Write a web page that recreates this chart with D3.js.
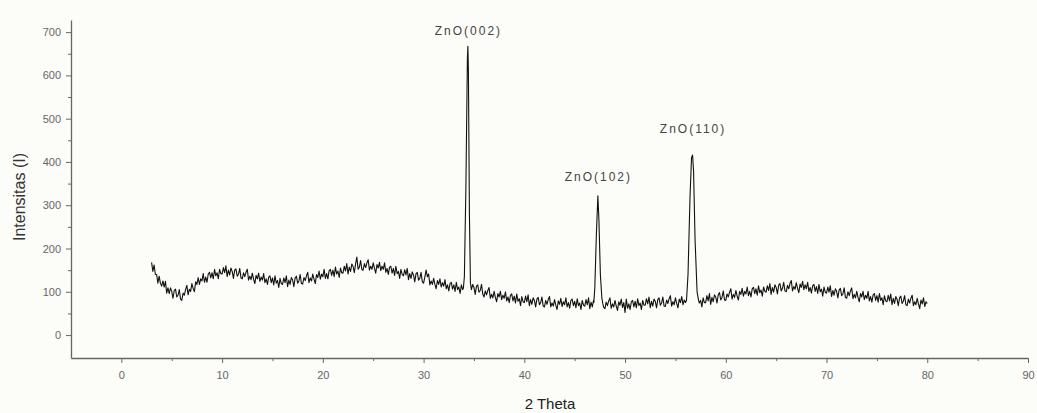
<!DOCTYPE html>
<html>
<head>
<meta charset="utf-8">
<script src="https://cdn.jsdelivr.net/npm/d3@7"></script>
<style>
  body { margin: 0; background: #fcfcf8; }
  svg text { font-family: "Liberation Sans", Arial, sans-serif; }
</style>
</head>
<body>
<div id="chart"></div>
<script>
// scan: 3 to 80 degrees, one reading every 0.125 degree (8 per row)
var scanStart = 3, scanStep = 0.125;
var intensity = [
  168,147,162,140,140,120,136,120,  113,125,111,124,97,109,96,109,
  101,85,103,106,88,92,105,83,      80,97,92,105,115,93,106,101,
  119,108,100,123,117,133,117,130,  125,142,122,134,122,141,145,132,
  144,130,152,137,144,130,152,142,  141,156,144,160,135,150,139,155,
  147,131,150,153,136,140,154,132,  130,144,135,145,152,127,136,128,
  143,129,119,138,130,143,124,134,  127,142,121,130,117,134,137,121,
  132,116,137,120,126,110,131,119,  117,132,121,137,112,127,117,133,
  127,112,132,136,120,125,140,119,  118,133,126,137,145,121,132,125,
  141,129,119,140,133,148,129,141,  135,152,131,142,130,149,152,138,
  150,135,157,141,148,133,155,144,  143,159,148,165,141,157,147,164,
  159,144,164,180,152,157,172,151,  150,165,156,167,174,150,159,152,
  167,154,143,163,155,168,149,159,  152,167,145,154,140,157,159,143,
  154,138,159,142,147,131,152,140,  137,151,139,154,128,142,131,146,
  139,123,142,145,127,131,145,123,  120,134,150,135,141,116,125,117,
  131,117,107,126,117,130,111,121,  113,128,107,116,102,119,122,106,
  116,101,122,105,111,96,116,105,   103,118,106,122,97,112,101,117,
  110,94,113,116,99,103,117,95,     88,102,93,103,110,85,94,86,
  101,87,77,96,88,101,82,92,        85,100,79,88,75,92,95,79,
  90,74,95,78,84,68,89,77,          75,90,77,93,68,82,71,86,
  80,65,83,87,70,75,88,67,          65,80,71,82,89,65,74,67,
  82,69,59,79,71,85,66,77,          70,86,65,75,62,80,83,68,
  78,63,84,68,74,59,80,69,          67,82,70,86,61,76,65,81,
  75,60,79,83,66,71,85,64,          61,76,68,79,86,62,72,65,
  80,67,57,77,69,83,64,75,          52,83,62,72,59,77,80,65,
  78,63,84,68,74,59,80,69,          69,84,72,88,63,78,67,83,
  78,63,82,86,69,74,88,67,          66,81,73,84,91,67,77,70,
  86,73,63,83,75,89,70,81,          75,91,70,80,67,85,88,73,
  84,69,90,74,80,65,86,75,          75,91,79,96,71,87,77,93,
  88,74,93,98,81,87,102,81,         80,95,88,99,107,83,94,87,
  103,90,81,101,94,108,90,101,      95,111,91,101,88,107,110,96,
  107,92,114,98,104,90,111,101,     99,114,103,119,94,110,99,116,
  110,95,115,119,102,108,122,102,   100,115,107,119,126,102,112,106,
  121,108,98,118,110,124,105,116,   107,122,101,110,97,114,117,101,
  112,96,117,100,106,90,111,99,     97,111,99,114,89,103,92,107,
  101,86,104,108,91,95,109,87,      85,100,91,102,109,84,94,86,
  101,87,77,96,88,101,82,92,        85,101,79,89,76,93,96,80,
  91,76,96,80,86,70,91,79,          77,92,79,95,70,85,73,89,
  83,68,86,90,73,78,91,70,          68,83,74,85,92,68,77,70,
  85,72,61,81,72,86,66,77,
  73
];

// reflections, read as [2theta, intensity]
var peak002 = [[33.95,108],[34.05,135],[34.2,340],[34.35,640],[34.4,667],[34.45,610],[34.55,280],[34.65,120],[34.75,105]];
var peak102 = [[46.9,75],[47.0,110],[47.15,230],[47.3,322],[47.4,270],[47.55,140],[47.7,85],[47.8,72]];
var peak110 = [[56.1,80],[56.25,140],[56.45,320],[56.6,410],[56.7,416],[56.8,380],[56.95,220],[57.15,100],[57.3,80]];

var peakLabels = ["ZnO(002)", "ZnO(102)", "ZnO(110)"];
var peakLabelPos = [[34.45, 693], [47.35, 356], [56.75, 467]];

var xTicks = [0, 10, 20, 30, 40, 50, 60, 70, 80, 90];
var yTicks = [0, 100, 200, 300, 400, 500, 600, 700];

var width = 1037, height = 413;
var peaks = [peak002, peak102, peak110];

var data = intensity.map((v, i) => [scanStart + i * scanStep, v])
  .filter(d => !peaks.some(p => d[0] >= p[0][0] && d[0] <= p[p.length - 1][0]));
peaks.forEach(p => { data = data.concat(p); });
data.sort((a, b) => a[0] - b[0]);

var svg = d3.select("#chart").append("svg")
    .attr("width", width)
    .attr("height", height);

svg.append("rect").attr("width", width).attr("height", height).attr("fill", "#fcfcf8");

var x = d3.scaleLinear().domain([-5, 90]).range([71, 1028]);
var y = d3.scaleLinear().domain([-53, 728]).range([358, 20]);

// minor ticks first
svg.append("g")
    .attr("transform", "translate(0,358)")
    .call(d3.axisBottom(x).tickValues(d3.range(5, 90, 10)).tickSize(3).tickFormat(""))
    .call(g => g.select(".domain").remove())
    .selectAll("line").attr("stroke", "#666");

svg.append("g")
    .attr("transform", "translate(71,0)")
    .call(d3.axisLeft(y).tickValues(d3.range(50, 728, 100)).tickSize(3).tickFormat(""))
    .call(g => g.select(".domain").remove())
    .selectAll("line").attr("stroke", "#666");

var xAxis = svg.append("g")
    .attr("transform", "translate(0,358)")
    .call(d3.axisBottom(x).tickValues(xTicks).tickSize(5).tickPadding(8).tickSizeOuter(0));

var yAxis = svg.append("g")
    .attr("transform", "translate(71,0)")
    .call(d3.axisLeft(y).tickValues(yTicks).tickSize(5).tickPadding(5).tickSizeOuter(0));

[xAxis, yAxis].forEach(g => {
  g.select(".domain").attr("stroke", "#666").attr("stroke-width", 1.3);
  g.selectAll(".tick line").attr("stroke", "#666");
  g.selectAll(".tick text").attr("fill", "#666").attr("font-size", "11px")
    .attr("font-family", "'Liberation Sans', Arial, sans-serif");
});

var line = d3.line().x(d => x(d[0])).y(d => y(d[1]));

svg.append("path")
    .datum(data)
    .attr("fill", "none")
    .attr("stroke", "#111")
    .attr("stroke-width", 1.1)
    .attr("stroke-linejoin", "round")
    .attr("d", line);

svg.selectAll(".peak-label")
    .data(peakLabels)
  .enter().append("text")
    .attr("class", "peak-label")
    .attr("x", (d, i) => x(peakLabelPos[i][0]))
    .attr("y", (d, i) => y(peakLabelPos[i][1]))
    .attr("text-anchor", "middle")
    .attr("font-size", "12px")
    .attr("letter-spacing", "2px")
    .attr("fill", "#444")
    .text(d => d);

svg.append("text")
    .attr("x", 550)
    .attr("y", 409)
    .attr("text-anchor", "middle")
    .attr("font-size", "15px")
    .attr("fill", "#222")
    .text("2 Theta");

svg.append("text")
    .attr("transform", "translate(25,197) rotate(-90)")
    .attr("text-anchor", "middle")
    .attr("font-size", "16px")
    .attr("fill", "#333")
    .text("Intensitas (I)");
</script>
</body>
</html>
